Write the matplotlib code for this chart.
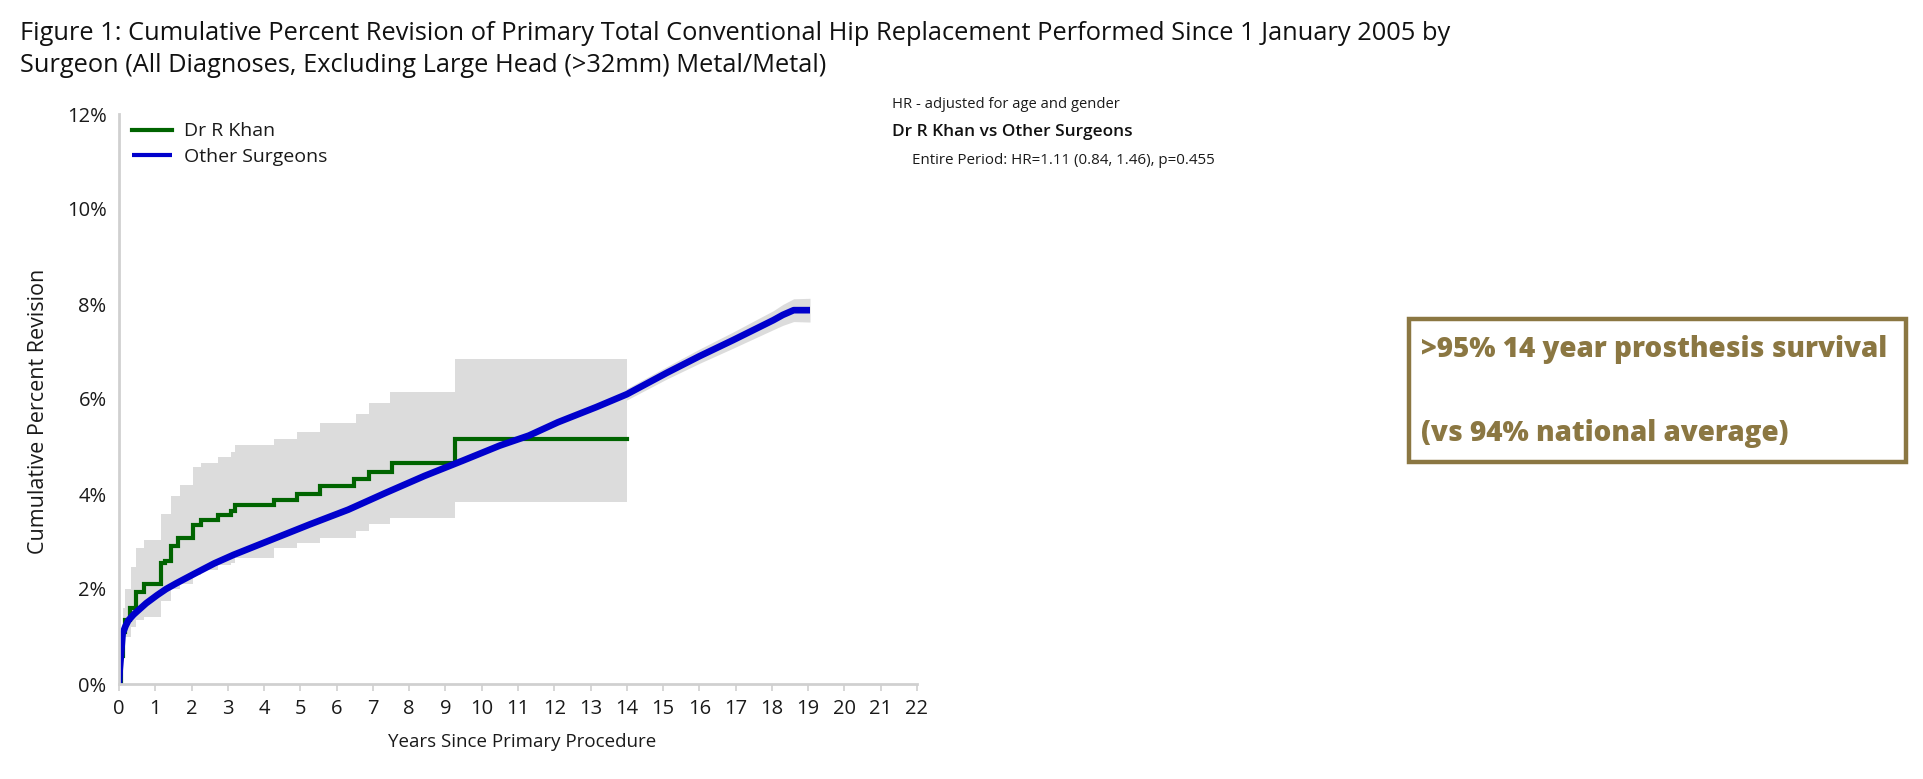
import matplotlib
matplotlib.use("Agg")
import matplotlib.pyplot as plt
from matplotlib.patches import Rectangle

# ---- data ----
# Dr R Khan: Kaplan-Meier steps (years, cumulative % revision)
khan_years = [0, 0.05, 0.1, 0.16, 0.3, 0.47, 0.68, 1.16, 1.28, 1.42, 1.63, 2.05, 2.26,
              2.74, 3.1, 3.2, 4.26, 4.9, 5.53, 6.47, 6.9, 7.53, 9.26, 14.0]
khan_pct = [0, 0.6, 1.1, 1.34, 1.6, 1.94, 2.1, 2.54, 2.6, 2.9, 3.07, 3.34, 3.46,
            3.55, 3.64, 3.76, 3.87, 4.0, 4.16, 4.31, 4.47, 4.65, 5.16, 5.16]

# Dr R Khan: 95% CI band (step)
khan_ci_years = [0, 0.05, 0.1, 0.16, 0.32, 0.47, 0.68, 1.16, 1.42, 1.68, 2.05, 2.26,
                 2.74, 3.1, 3.2, 4.26, 4.9, 5.53, 6.53, 6.9, 7.47, 9.26, 14.0]
khan_upper = [0, 1.0, 1.6, 2.0, 2.47, 2.86, 3.04, 3.57, 3.96, 4.18, 4.56, 4.66,
              4.77, 4.88, 5.03, 5.16, 5.31, 5.5, 5.69, 5.92, 6.15, 6.84, 6.84]
khan_lower = [0, 0.3, 0.7, 1.0, 1.2, 1.34, 1.41, 1.75, 2.0, 2.1, 2.3, 2.4,
              2.5, 2.55, 2.65, 2.86, 2.97, 3.07, 3.22, 3.36, 3.5, 3.84, 3.84]

# Other surgeons
other_years = [0, 0.02, 0.05, 0.1, 0.18, 0.26, 0.4, 0.53, 0.75, 1.05, 1.3, 1.58, 2.1,
               2.63, 3.16, 4.21, 5.26, 6.32, 7.37, 8.42, 9.47, 10.5, 11.3, 12.1, 13.16,
               14.0, 15.1, 16.0, 16.93, 18.04, 18.3, 18.6, 19.05]
other_pct = [0, 0.3, 0.57, 1.06, 1.22, 1.34, 1.46, 1.55, 1.7, 1.87, 2.0, 2.12, 2.33,
             2.54, 2.72, 3.04, 3.36, 3.67, 4.03, 4.38, 4.7, 5.02, 5.23, 5.51, 5.83,
             6.1, 6.55, 6.9, 7.24, 7.66, 7.77, 7.87, 7.87]
other_ci_half = [0, 0.03, 0.04, 0.05, 0.05, 0.05, 0.05, 0.05, 0.05, 0.05, 0.05, 0.05, 0.05,
                 0.05, 0.05, 0.05, 0.06, 0.06, 0.07, 0.07, 0.08, 0.08, 0.09, 0.1, 0.11,
                 0.12, 0.13, 0.15, 0.17, 0.2, 0.22, 0.24, 0.25]

x_ticks = list(range(0, 23))
y_ticks = [0, 2, 4, 6, 8, 10, 12]

title = ("Figure 1: Cumulative Percent Revision of Primary Total Conventional Hip Replacement "
         "Performed Since 1 January 2005 by\nSurgeon (All Diagnoses, Excluding Large Head "
         "(>32mm) Metal/Metal)")

W, H = 1923, 779
FONT = "Open Sans"
GREEN = "#006400"
BLUE = "#0000CC"
BAND = "#dcdcdc"
GOLD = "#8B7742"
TXT = "#1a1a1a"


def fx(px):
    return px / W


def fy(py):
    return 1 - py / H


plt.rcParams["font.family"] = [FONT, "DejaVu Sans"]
fig = plt.figure(figsize=(W / 100, H / 100), dpi=100)
ax = fig.add_axes([fx(119), fy(684), fx(917) - fx(119), fy(114) - fy(684)])

# CI bands
ax.fill_between(khan_ci_years, khan_lower, khan_upper, step="post", color=BAND, lw=0)
o_low = [p - h for p, h in zip(other_pct, other_ci_half)]
o_up = [p + h for p, h in zip(other_pct, other_ci_half)]
ax.fill_between(other_years, o_low, o_up, color=BAND, lw=0)

ax.step(khan_years, khan_pct, where="post", color=GREEN, lw=3.0, label="Dr R Khan",
        solid_joinstyle="miter")
ax.plot(other_years, other_pct, color=BLUE, lw=4.8, label="Other Surgeons",
        solid_capstyle="butt")

ax.set_xlim(0, 22)
ax.set_ylim(0, 12)
ax.set_xticks(x_ticks)
ax.set_yticks(y_ticks)
ax.set_yticklabels([f"{v}%" for v in y_ticks])
ax.tick_params(axis="x", length=5, width=1.2, color="#d0d0d0", labelsize=14.5,
               labelcolor=TXT, pad=6)
ax.tick_params(axis="y", length=0, labelsize=14.5, labelcolor=TXT, pad=9)
for s in ["top", "right"]:
    ax.spines[s].set_visible(False)
for s in ["left", "bottom"]:
    ax.spines[s].set_color("#d0d0d0")
    ax.spines[s].set_linewidth(2)

leg = ax.legend(loc="upper left", bbox_to_anchor=(fx(114), fy(105)),
                bbox_transform=fig.transFigure, frameon=False, fontsize=14,
                handlelength=2.1, handletextpad=0.6, labelspacing=0.4)
for line in leg.get_lines():
    line.set_linewidth(3)
for t in leg.get_texts():
    t.set_color(TXT)

fig.text(fx(522), fy(742), "Years Since Primary Procedure", ha="center", va="center",
         fontsize=13.5, color=TXT)
fig.text(fx(39), fy(411), "Cumulative Percent Revision", ha="center", va="center",
         rotation=90, fontsize=15.5, color=TXT)

fig.text(fx(20), fy(49.5), title, ha="left", va="center", fontsize=18.3,
         color="#111111", linespacing=1.38)

fig.text(fx(892), fy(105), "HR - adjusted for age and gender", ha="left", va="center",
         fontsize=10.6, color=TXT)
fig.text(fx(892), fy(132), "Dr R Khan vs Other Surgeons", ha="left", va="center",
         fontsize=12.4, fontweight=600, color="#111111")
fig.text(fx(912), fy(160), "Entire Period: HR=1.11 (0.84, 1.46), p=0.455", ha="left",
         va="center", fontsize=10.9, color=TXT)

# highlight box
fig.patches.append(Rectangle((fx(1409), fy(462)), fx(1906) - fx(1409), fy(319) - fy(462),
                             transform=fig.transFigure, fill=False, edgecolor=GOLD,
                             linewidth=3.2))
fig.text(fx(1421), fy(350), ">95% 14 year prosthesis survival", ha="left", va="center",
         fontsize=20, fontweight=800, color=GOLD)
fig.text(fx(1421), fy(433), "(vs 94% national average)", ha="left", va="center",
         fontsize=20, fontweight=800, color=GOLD)

fig.savefig("out.png", dpi=100)
